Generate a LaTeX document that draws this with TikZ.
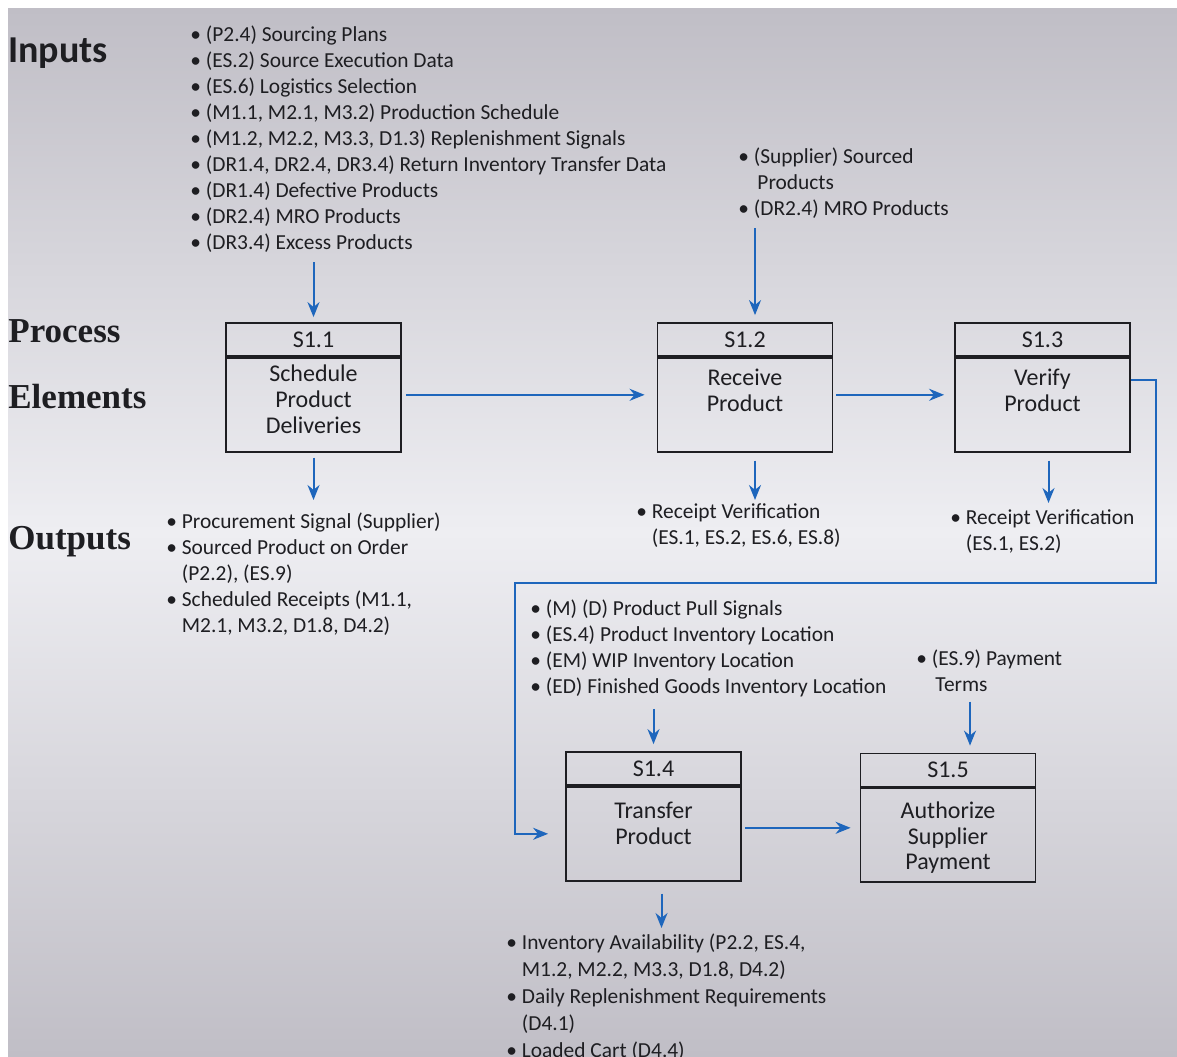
\documentclass[tikz,border=0pt]{standalone}
\usepackage{fontspec}
\setmainfont{Carlito}
\newfontfamily\headserif{Liberation Serif}
\usetikzlibrary{positioning,arrows.meta}
\definecolor{flowblue}{RGB}{30,102,188}
\definecolor{bgdark}{RGB}{192,190,198}
\definecolor{bglight}{RGB}{238,238,242}
\definecolor{inkgray}{RGB}{30,30,34}
\newcommand{\cont}{\hphantom{\textbullet\ }}
\begin{document}
\begin{tikzpicture}[x=0.5pt,y=-0.5pt,
  flow/.style={draw=flowblue,line width=1pt,-{Stealth[length=7.5pt,width=6pt]}},
  ptitle/.style={draw=inkgray,line width=0.9pt,minimum width=87.5pt,minimum height=16.5pt,inner sep=0pt,text=inkgray,font=\fontsize{12}{13}\selectfont},
  pbody/.style={draw=inkgray,line width=0.9pt,minimum width=87.5pt,minimum height=47pt,inner sep=0pt},
  ptext/.style={align=center,anchor=north,inner sep=0pt,text=inkgray,font=\fontsize{12}{12.8}\selectfont},
  items/.style={align=left,anchor=north west,inner sep=0pt,text=inkgray,font=\fontsize{10.7}{13}\selectfont},
  heading/.style={anchor=base west,inner sep=0pt,text=inkgray,font=\headserif\bfseries\fontsize{17.5}{20}\selectfont}]

  % background
  \fill[white] (0,0) rectangle (1177,1056);
  \shade[top color=bgdark,bottom color=bgdark,middle color=bglight] (8,8) rectangle (1177,1056);
  \useasboundingbox (0,0) rectangle (1177,1056);

  % row headings
  \node[heading,font=\bfseries\fontsize{19}{20}\selectfont] (inputs) at (8,62) {Inputs};
  \node[heading] (process) at (8,342) {Process};
  \node[heading] (elements) at (8,408) {Elements};
  \node[heading] (outputs) at (8,549) {Outputs};

  % process elements
  \node[ptitle] (s11t) at (313.5,339.5) {S1.1};
  \node[pbody,below=0pt of s11t] (s11) {};
  \node[ptext] (s11x) at ([yshift=-4pt]s11.north) {Schedule\\Product\\Deliveries};

  \node[ptitle] (s12t) at (745,339.5) {S1.2};
  \node[pbody,below=0pt of s12t] (s12) {};
  \node[ptext] (s12x) at ([yshift=-6pt]s12.north) {Receive\\Product};

  \node[ptitle] (s13t) at (1042.5,339.5) {S1.3};
  \node[pbody,below=0pt of s13t] (s13) {};
  \node[ptext] (s13x) at ([yshift=-6pt]s13.north) {Verify\\Product};

  \node[ptitle] (s14t) at (653.5,768.5) {S1.4};
  \node[pbody,below=0pt of s14t] (s14) {};
  \node[ptext] (s14x) at ([yshift=-8pt]s14.north) {Transfer\\Product};

  \node[ptitle] (s15t) at (948,770) {S1.5};
  \node[pbody,below=0pt of s15t] (s15) {};
  \node[ptext] (s15x) at ([yshift=-7pt]s15.north) {Authorize\\Supplier\\Payment};

  % inputs and outputs
  \node[items] (in11) at (190,25) {\textbullet\ (P2.4) Sourcing Plans\\
    \textbullet\ (ES.2) Source Execution Data\\
    \textbullet\ (ES.6) Logistics Selection\\
    \textbullet\ (M1.1, M2.1, M3.2) Production Schedule\\
    \textbullet\ (M1.2, M2.2, M3.3, D1.3) Replenishment Signals\\
    \textbullet\ (DR1.4, DR2.4, DR3.4) Return Inventory Transfer Data\\
    \textbullet\ (DR1.4) Defective Products\\
    \textbullet\ (DR2.4) MRO Products\\
    \textbullet\ (DR3.4) Excess Products};
  \node[items] (in12) at (738,147) {\textbullet\ (Supplier) Sourced\\
    \cont\,Products\\
    \textbullet\ (DR2.4) MRO Products};
  \node[items] (out11) at (166,512) {\textbullet\ Procurement Signal (Supplier)\\
    \textbullet\ Sourced Product on Order\\
    \cont(P2.2), (ES.9)\\
    \textbullet\ Scheduled Receipts (M1.1,\\
    \cont M2.1, M3.2, D1.8, D4.2)};
  \node[items] (out12) at (636,503) {\textbullet\ Receipt Verification\\
    \cont(ES.1, ES.2, ES.6, ES.8)};
  \node[items] (out13) at (950,509) {\textbullet\ Receipt Verification\\
    \cont(ES.1, ES.2)};
  \node[items] (in14) at (530,599) {\textbullet\ (M) (D) Product Pull Signals\\
    \textbullet\ (ES.4) Product Inventory Location\\
    \textbullet\ (EM) WIP Inventory Location\\
    \textbullet\ (ED) Finished Goods Inventory Location};
  \node[items] (in15) at (916,649) {\textbullet\ (ES.9) Payment\\
    \cont\,Terms};
  \node[items,font=\fontsize{10.7}{13.5}\selectfont] (out14) at (506,933) {\textbullet\ Inventory Availability (P2.2, ES.4,\\
    \cont M1.2, M2.2, M3.3, D1.8, D4.2)\\
    \textbullet\ Daily Replenishment Requirements\\
    \cont(D4.1)\\
    \textbullet\ Loaded Cart (D4.4)};

  % flow between elements
  \draw[flow,shorten <=2pt,shorten >=6pt] ([yshift=5pt]s11.east) -- ([yshift=5pt]s12.west);
  \draw[flow,shorten <=1.5pt,shorten >=5pt] ([yshift=5pt]s12.east) -- ([yshift=5pt]s13.west);
  \coordinate (loopturn) at (515,583);
  \draw[flow,shorten >=8.5pt] ([yshift=12.5pt]s13.east) -- ++(25,0) |- (loopturn) |- (s14.west);
  \draw[flow,shorten <=1.5pt,shorten >=4.5pt] ([yshift=3pt]s14.east) -- ([yshift=3pt]s14.east -| s15.west);

  % inputs in, outputs out
  \draw[flow,shorten <=5pt,shorten >=2.5pt] (in11.south -| s11t.north) -- (s11t.north);
  \draw[flow,shorten <=5pt,shorten >=3.5pt] ([xshift=5pt]in12.south -| s12t.north) -- ([xshift=5pt]s12t.north);
  \draw[flow,shorten <=6pt,shorten >=3.5pt] (in14.south -| s14t.north) -- (s14t.north);
  \draw[flow,shorten <=5pt,shorten >=3.5pt] ([xshift=11pt]in15.south -| s15t.north) -- ([xshift=11pt]s15t.north);
  \draw[flow,shorten <=2.5pt,shorten >=6pt] (s11.south) -- (out11.north -| s11.south);
  \draw[flow,shorten <=4pt,shorten >=1.5pt] ([xshift=5pt]s12.south) -- ([xshift=5pt]out12.north -| s12.south);
  \draw[flow,shorten <=4pt,shorten >=3pt] ([xshift=3pt]s13.south) -- ([xshift=3pt]out13.north -| s13.south);
  \draw[flow,shorten <=6pt,shorten >=2.5pt] ([xshift=4pt]s14.south) -- ([xshift=4pt]out14.north -| s14.south);
\end{tikzpicture}
\end{document}
